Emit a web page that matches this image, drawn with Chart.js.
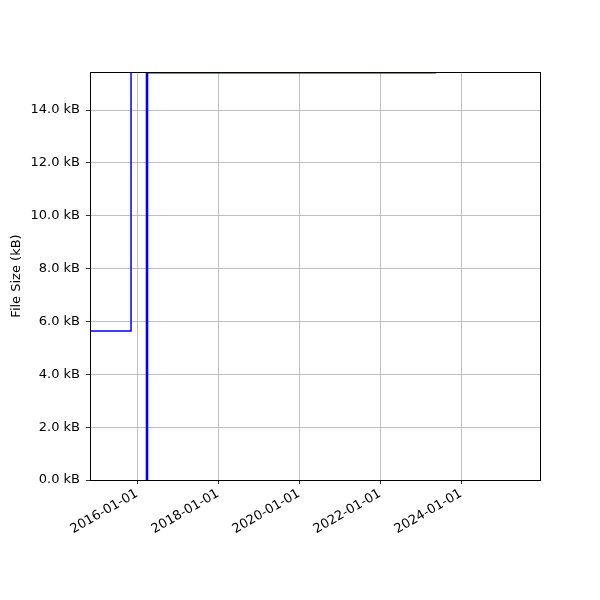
<!DOCTYPE html>
<html>
<head>
<meta charset="utf-8">
<script src="https://cdn.jsdelivr.net/npm/chart.js@4"></script>
<style>
  html, body { margin: 0; padding: 0; background: #fff; }
  #wrap { width: 600px; height: 600px; }
</style>
</head>
<body>
<div id="wrap"><canvas id="c" width="600" height="600"></canvas></div>
<script>
// step series: dates and sizes (kB)
const dates = ["2014-11-03", "2015-11-08", "2016-03-31", "2016-03-31", "2023-05-20"]
const sizes = [5.64, 40, 0, 15.41, 15.41]
const xTickDates = ["2016-01-01", "2018-01-01", "2020-01-01", "2022-01-01", "2024-01-01"]
const yTicks = [0, 2, 4, 6, 8, 10, 12, 14]

const xMin = Date.parse("2014-11-03")
const xMax = Date.parse("2025-12-13")
const yMax = 15.44

const toMs = d => Date.parse(d)
const fmtDate = v => new Date(v).toISOString().slice(0, 10)

const points = dates.map((d, i) => ({ x: toMs(d), y: sizes[i] }))

const font = { family: "'DejaVu Sans'", size: 13 }

const frame = {
  id: 'frame',
  afterDatasetsDraw(chart) {
    const a = chart.chartArea
    const ctx = chart.ctx
    ctx.save()
    ctx.strokeStyle = '#000'
    ctx.lineWidth = 1
    ctx.strokeRect(Math.round(a.left) + 0.5, Math.round(a.top) + 0.5,
      Math.round(a.right - a.left), Math.round(a.bottom - a.top))
    ctx.restore()
  }
}

const config = {
  type: 'line',
  data: {
    datasets: [{
      label: 'File Size',
      data: points,
      stepped: 'before',
      borderColor: 'rgb(0, 0, 255)',
      backgroundColor: 'rgb(0, 0, 255)',
      borderWidth: 1.5,
      pointRadius: 0,
      fill: false,
      tension: 0,
      segment: {
        // the drop to zero and the climb back overlap at the same date
        borderWidth: ctx => (ctx.p0DataIndex === 1 || ctx.p0DataIndex === 2) ? 2.6 : 1.5
      }
    }]
  },
  options: {
    responsive: false,
    animation: false,
    layout: { padding: { top: 72, right: 60, left: 9, bottom: 0 } },
    plugins: { legend: { display: false }, tooltip: { enabled: false } },
    scales: {
      x: {
        type: 'linear',
        min: xMin,
        max: xMax,
        afterBuildTicks: axis => { axis.ticks = xTickDates.map(d => ({ value: toMs(d) })) },
        afterFit: axis => { axis.height = 120 },
        ticks: {
          callback: v => fmtDate(v),
          minRotation: 30,
          maxRotation: 30,
          color: '#000',
          font: font,
          padding: 2,
          autoSkip: false
        },
        grid: { color: '#b0b0b0', lineWidth: 0.8, tickColor: '#000', tickLength: 4, drawTicks: true },
        border: { color: '#000', width: 1 }
      },
      y: {
        min: 0,
        max: yMax,
        afterBuildTicks: axis => { axis.ticks = yTicks.map(v => ({ value: v })) },
        afterFit: axis => { axis.width = 81 },
        ticks: {
          callback: v => v.toFixed(1) + ' kB',
          color: '#000',
          font: font,
          padding: 6
        },
        title: { display: true, text: 'File Size (kB)', color: '#000', font: font, padding: 0 },
        grid: { color: '#b0b0b0', lineWidth: 0.8, tickColor: '#000', tickLength: 4 },
        border: { color: '#000', width: 1 }
      }
    }
  },
  plugins: [frame]
}

const chart = new Chart(document.getElementById('c'), config)
</script>
</body>
</html>
